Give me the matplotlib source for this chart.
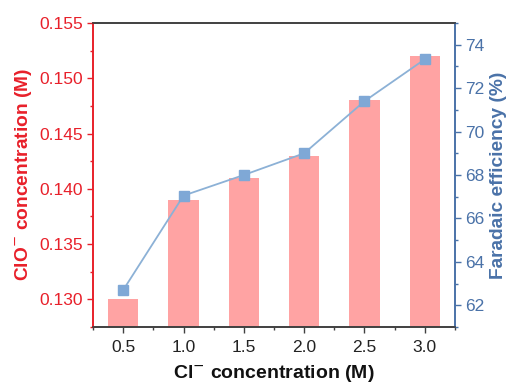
import matplotlib
matplotlib.use("Agg")
import matplotlib.pyplot as plt
from matplotlib.ticker import MultipleLocator

plt.rcParams['font.family'] = ['Liberation Sans', 'DejaVu Sans']

cl_conc = [0.5, 1.0, 1.5, 2.0, 2.5, 3.0]
clo_conc = [0.130, 0.139, 0.141, 0.143, 0.148, 0.152]
fe = [62.7, 67.05, 68.0, 69.0, 71.4, 73.33]

red = '#E8202A'
blue = '#4A72A8'
bar_color = '#FFA3A3'
line_color = '#8CB1D6'
marker_color = '#7FA8D6'
dark = '#404040'

fig = plt.figure(figsize=(5.12, 3.87), dpi=100)
ax = fig.add_axes([93/512, 1-327/387, (455-93)/512, (327-23)/387])
ax.bar(cl_conc, clo_conc, width=0.25, color=bar_color, zorder=1)
ax.set_xlim(0.25, 3.25)
ax.set_ylim(0.1275, 0.155)
ax.set_xticks(cl_conc)
ax.set_xticklabels([f"{v:.1f}" for v in cl_conc])
ax.xaxis.set_minor_locator(MultipleLocator(0.25))
ax.yaxis.set_major_locator(MultipleLocator(0.005))
ax.yaxis.set_minor_locator(MultipleLocator(0.0025))
ax.yaxis.set_major_formatter(matplotlib.ticker.FormatStrFormatter('%.3f'))

ax2 = ax.twinx()
ax2.plot(cl_conc, fe, color=line_color, lw=1.3, marker='s', ms=6.5,
         mfc=marker_color, mec=marker_color, zorder=3)
ax2.set_ylim(61, 75)
ax2.yaxis.set_major_locator(MultipleLocator(2))
ax2.yaxis.set_minor_locator(MultipleLocator(1))

for a in (ax, ax2):
    a.spines['top'].set_color(dark)
    a.spines['bottom'].set_color(dark)
    a.spines['left'].set_color(red)
    a.spines['right'].set_color(blue)
    for s in a.spines.values():
        s.set_linewidth(1.2)

ax.tick_params(axis='x', which='major', direction='out', length=4, width=1, colors=dark,
               labelsize=12.5, labelcolor='#222222', pad=5)
ax.tick_params(axis='x', which='minor', direction='out', length=2.5, width=1, colors=dark)
ax.tick_params(axis='y', which='major', direction='out', length=4, width=1, colors=red,
               labelsize=12.5, labelcolor=red, pad=3)
ax.tick_params(axis='y', which='minor', direction='out', length=2.5, width=1, colors=red)
ax2.tick_params(axis='y', which='major', direction='out', length=4, width=1, colors=blue,
                labelsize=12.5, labelcolor=blue, pad=3)
ax2.tick_params(axis='y', which='minor', direction='out', length=2.5, width=1, colors=blue)

ax.set_xlabel('Cl$^{-}$ concentration (M)', fontsize=14, fontweight='bold', color='#111111', labelpad=6)
ax.set_ylabel('ClO$^{-}$ concentration (M)', fontsize=13.8, fontweight='bold', color=red, labelpad=4)
ax2.set_ylabel('Faradaic efficiency (%)', fontsize=13.8, fontweight='bold', color=blue, labelpad=4)

fig.savefig('out.png', dpi=100)
